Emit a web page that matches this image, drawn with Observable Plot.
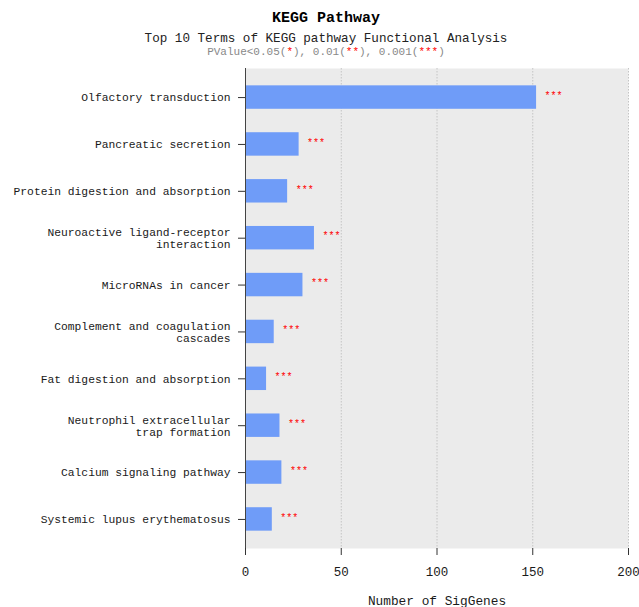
<!DOCTYPE html>
<html>
<head>
<meta charset="utf-8">
<script src="https://cdn.jsdelivr.net/npm/d3@7"></script>
<script src="https://cdn.jsdelivr.net/npm/@observablehq/plot@0.6"></script>
<style>
  body { margin: 0; background: #fff; font-family: "Liberation Mono", "DejaVu Sans Mono", monospace; }
  #wrap { position: relative; width: 639px; height: 607px; }
  .head { position: absolute; left: 0; width: 652px; text-align: center; white-space: nowrap; }
  #title { top: 10px; font-size: 15px; font-weight: bold; line-height: 18px; color: #000; }
  #subtitle { top: 32px; font-size: 12.6px; line-height: 15px; color: #222; }
  #pvalue { top: 46px; font-size: 11px; line-height: 13px; color: #888; }
  #pvalue .s { color: #ff0000; }
  #chart { position: absolute; left: 0; top: 60px; }
</style>
</head>
<body>
<div id="wrap">
  <div class="head" id="title">KEGG Pathway</div>
  <div class="head" id="subtitle">Top 10 Terms of KEGG pathway Functional Analysis</div>
  <div class="head" id="pvalue">PValue&lt;0.05(<span class="s">*</span>), 0.01(<span class="s">**</span>), 0.001(<span class="s">***</span>)</div>
  <div id="chart"></div>
</div>
<script>
// KEGG terms, top to bottom
const terms = [
  "Olfactory transduction",
  "Pancreatic secretion",
  "Protein digestion and absorption",
  "Neuroactive ligand-receptor interaction",
  "MicroRNAs in cancer",
  "Complement and coagulation cascades",
  "Fat digestion and absorption",
  "Neutrophil extracellular trap formation",
  "Calcium signaling pathway",
  "Systemic lupus erythematosus"
];

// Axis labels (long names wrapped onto two lines)
const termLabels = [
  "Olfactory transduction",
  "Pancreatic secretion",
  "Protein digestion and absorption",
  "Neuroactive ligand-receptor\ninteraction",
  "MicroRNAs in cancer",
  "Complement and coagulation\ncascades",
  "Fat digestion and absorption",
  "Neutrophil extracellular\ntrap formation",
  "Calcium signaling pathway",
  "Systemic lupus erythematosus"
];

// Number of significant genes per term
const geneCounts = [152, 28, 22, 36, 30, 15, 11, 18, 19, 14];

// Significance markers per term
const significance = ["***", "***", "***", "***", "***", "***", "***", "***", "***", "***"];

// X axis ticks
const xTicks = [0, 50, 100, 150, 200];

const rows = terms.map((t, i) => ({term: t, label: termLabels[i], count: geneCounts[i], sig: significance[i]}));
const labelOf = new Map(terms.map((t, i) => [t, termLabels[i]]));

const font = "Liberation Mono, DejaVu Sans Mono, monospace";

const chart = Plot.plot({
  width: 639,
  height: 547,
  marginLeft: 245,
  marginRight: 11,
  marginTop: 8,
  marginBottom: 59,
  style: {fontFamily: font, background: "transparent", color: "#222"},
  x: {domain: [0, 200], ticks: xTicks},
  y: {type: "band", domain: terms, paddingInner: 0.5, paddingOuter: 0.37, round: false, label: null},
  marks: [
    Plot.frame({fill: "#ebebeb", stroke: null}),
    Plot.ruleX(xTicks.filter(d => d > 0), {stroke: "#c4c4c4", strokeWidth: 1, strokeDasharray: "1.5,1.5"}),
    Plot.barX(rows, {x: "count", y: "term", fill: "#6f9cf8"}),
    Plot.text(rows, {x: "count", y: "term", text: "sig", dx: 8, dy: -2, textAnchor: "start", fill: "#ff0000", fontSize: 10, fontFamily: font}),
    Plot.ruleX([0], {stroke: "#444", strokeWidth: 1}),
    Plot.axisY({
      tickSize: 7,
      tickPadding: 8,
      stroke: "#333",
      fontSize: 11.3,
      lineHeight: 1.06,
      fill: "#1a1a1a",
      tickFormat: d => labelOf.get(d),
      label: null
    }),
    Plot.ruleY([0], {frameAnchor: "bottom", x1: 0, x2: 200, stroke: "#333"}),
    Plot.axisX({
      ticks: xTicks,
      tickSize: 7,
      tickPadding: 12,
      stroke: "#333",
      fontSize: 12.5,
      fill: "#1a1a1a",
      label: null
    }),
    Plot.text(["Number of SigGenes"], {frameAnchor: "bottom", dy: 56, fontSize: 12.8, fill: "#1a1a1a", fontFamily: font})
  ]
});

document.getElementById("chart").appendChild(chart);
</script>
</body>
</html>
